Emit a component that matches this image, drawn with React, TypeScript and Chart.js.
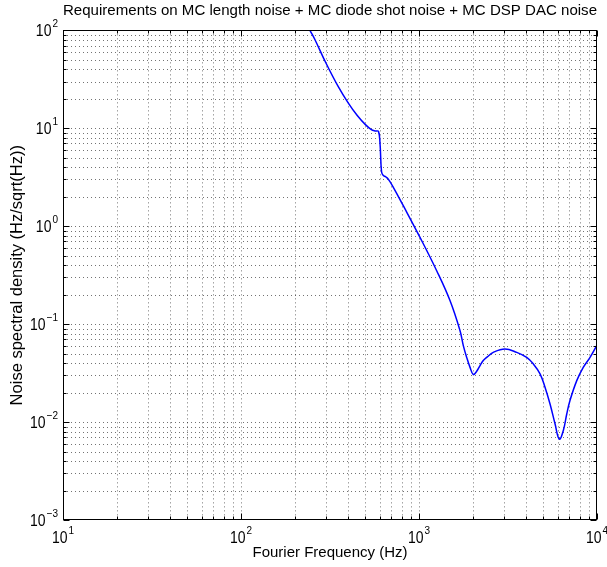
import React, { useEffect, useRef } from "react";
import { Chart, registerables } from "chart.js";

Chart.register(...registerables);

const TITLE = "Requirements on MC length noise + MC diode shot noise + MC DSP DAC noise";
const X_LABEL = "Fourier Frequency (Hz)";
const Y_LABEL = "Noise spectral density (Hz/sqrt(Hz))";

// Frequency (Hz) and noise spectral density (Hz/sqrt(Hz))
const FREQ = [200, 244, 260, 300, 350, 400, 450, 500, 540, 570, 592, 604, 616, 630, 650, 672, 720, 816, 1013, 1257, 1493, 1699, 1774, 1853, 1935, 2018, 2109, 2203, 2297, 2410, 2613, 3040, 3540, 4027, 4385, 4786, 5104, 5447, 5810, 6140, 6470, 6761, 7050, 7696, 8370, 9140, 10000];
const NOISE = [200, 100, 80.7, 46.4, 27.1, 18.2, 13.5, 10.9, 9.7, 9.4, 9.3, 7.0, 3.6, 3.3, 3.2, 3.03, 2.47, 1.62, 0.769, 0.351, 0.174, 0.086, 0.0604, 0.0458, 0.0362, 0.0306, 0.033, 0.0378, 0.0425, 0.046, 0.0515, 0.0558, 0.0515, 0.0458, 0.0393, 0.0311, 0.0227, 0.0153, 0.0096, 0.0067, 0.0082, 0.0121, 0.0166, 0.0265, 0.0362, 0.0458, 0.061];

// Decade exponents of the axis tick labels
const X_DECADES = [1, 2, 3, 4];
const Y_DECADES = [-3, -2, -1, 0, 1, 2];

const FONT = "'Liberation Sans', Arial, Helvetica, sans-serif";
const V_STRETCH = 1.13;

function allTicks(decades: number[]): { v: number; major: boolean }[] {
  const out: { v: number; major: boolean }[] = [];
  for (let i = 0; i < decades.length - 1; i++) {
    for (let m = 1; m <= 9; m++) out.push({ v: m * Math.pow(10, decades[i]), major: m === 1 });
  }
  out.push({ v: Math.pow(10, decades[decades.length - 1]), major: true });
  return out;
}

function expText(e: number) {
  return e < 0 ? "\u2212" + Math.abs(e) : String(e);
}

const matlabAxes = {
  id: "matlabAxes",
  beforeDatasetsDraw(chart: any) {
    const { ctx, chartArea: a, scales } = chart;
    const x = scales.x;
    const y = scales.y;
    ctx.save();
    ctx.strokeStyle = "rgba(0,0,0,0.55)";
    ctx.lineWidth = 1;
    ctx.setLineDash([1, 3]);
    for (const t of allTicks(X_DECADES)) {
      const px = Math.round(x.getPixelForValue(t.v)) + 0.5;
      if (px <= a.left + 1 || px >= a.right - 1) continue;
      ctx.beginPath();
      ctx.moveTo(px, a.top);
      ctx.lineTo(px, a.bottom);
      ctx.stroke();
    }
    for (const t of allTicks(Y_DECADES)) {
      const py = Math.round(y.getPixelForValue(t.v)) + 0.5;
      if (py <= a.top + 1 || py >= a.bottom - 1) continue;
      ctx.beginPath();
      ctx.moveTo(a.left, py);
      ctx.lineTo(a.right, py);
      ctx.stroke();
    }
    ctx.restore();
  },
  afterDatasetsDraw(chart: any) {
    const { ctx, chartArea: a, scales } = chart;
    const x = scales.x;
    const y = scales.y;
    ctx.save();
    ctx.setLineDash([]);
    ctx.strokeStyle = "#000";
    ctx.lineWidth = 1;
    const L = Math.round(a.left) + 0.5;
    const R = Math.round(a.right) - 0.5;
    const T = Math.round(a.top) + 0.5;
    const B = Math.round(a.bottom) - 0.5;
    ctx.strokeRect(L, T, R - L, B - T);
    for (const t of allTicks(X_DECADES)) {
      const px = Math.round(x.getPixelForValue(t.v)) + 0.5;
      const len = t.major ? 6 : 3;
      ctx.beginPath();
      ctx.moveTo(px, B);
      ctx.lineTo(px, B - len);
      ctx.moveTo(px, T);
      ctx.lineTo(px, T + len);
      ctx.stroke();
    }
    for (const t of allTicks(Y_DECADES)) {
      const py = Math.round(y.getPixelForValue(t.v)) + 0.5;
      const len = t.major ? 6 : 3;
      ctx.beginPath();
      ctx.moveTo(L, py);
      ctx.lineTo(L + len, py);
      ctx.moveTo(R, py);
      ctx.lineTo(R - len, py);
      ctx.stroke();
    }
    // tick labels: 10 with superscript exponent
    ctx.fillStyle = "#000";
    ctx.textBaseline = "alphabetic";
    ctx.textAlign = "left";
    const baseFont = "14px " + FONT;
    const supFont = "10px " + FONT;
    const measure = (e: number) => {
      ctx.font = baseFont;
      const wb = ctx.measureText("10").width;
      ctx.font = supFont;
      const we = ctx.measureText(expText(e)).width;
      return { wb, we };
    };
    const stretchedText = (s: string, px: number, py: number) => {
      ctx.save();
      ctx.translate(px, py);
      ctx.scale(1, V_STRETCH);
      ctx.fillText(s, 0, 0);
      ctx.restore();
    };
    const drawLabel = (e: number, left: number, cy: number) => {
      const { wb } = measure(e);
      ctx.font = baseFont;
      stretchedText("10", left, cy + 5.5);
      ctx.font = supFont;
      stretchedText(expText(e), left + wb + 1, cy - 3.5);
    };
    for (const e of X_DECADES) {
      const px = x.getPixelForValue(Math.pow(10, e));
      const { wb, we } = measure(e);
      const w = wb + we + 1;
      drawLabel(e, px - w / 2, a.bottom + 17);
    }
    for (const e of Y_DECADES) {
      const py = y.getPixelForValue(Math.pow(10, e));
      const { wb, we } = measure(e);
      const w = wb + we + 1;
      drawLabel(e, a.left - 5 - w, py);
    }
    ctx.restore();
  },
};

export default function App() {
  const ref = useRef<HTMLCanvasElement | null>(null);
  useEffect(() => {
    if (!ref.current) return;
    const chart = new Chart(ref.current, {
      type: "line",
      data: {
        datasets: [
          {
            data: FREQ.map((f, i) => ({ x: f, y: NOISE[i] })),
            borderColor: "#0000ff",
            borderWidth: 1.5,
            pointRadius: 0,
            fill: false,
            tension: 0.4,
          },
        ],
      },
      options: {
        responsive: true,
        maintainAspectRatio: false,
        animation: false,
        events: [],
        layout: { padding: { left: 0, right: 10, top: 0, bottom: 0 } },
        plugins: {
          legend: { display: false },
          tooltip: { enabled: false },
          title: {
            display: true,
            text: TITLE,
            fullSize: false,
            color: "#000",
            font: { family: FONT, size: 15.3, weight: "normal" },
            padding: { top: 2, bottom: 10 },
          },
        },
        scales: {
          x: {
            type: "logarithmic",
            min: 10,
            max: 10000,
            ticks: { display: false },
            grid: { display: false, drawTicks: false },
            border: { display: false },
            title: {
              display: true,
              text: X_LABEL,
              color: "#000",
              font: { family: FONT, size: 15 },
              padding: { top: 24, bottom: 5 },
            },
          },
          y: {
            type: "logarithmic",
            min: 0.001,
            max: 100,
            ticks: { display: false },
            grid: { display: false, drawTicks: false },
            border: { display: false },
            title: {
              display: true,
              text: Y_LABEL,
              color: "#000",
              font: { family: FONT, size: 16.5 },
              padding: { top: 7.1, bottom: 36.1 },
            },
          },
        },
      },
      plugins: [matlabAxes],
    } as any);
    return () => chart.destroy();
  }, []);
  return (
    <div style={{ position: "absolute", left: 0, top: 0, width: 607, height: 567, background: "#fff" }}>
      <canvas ref={ref} />
    </div>
  );
}
